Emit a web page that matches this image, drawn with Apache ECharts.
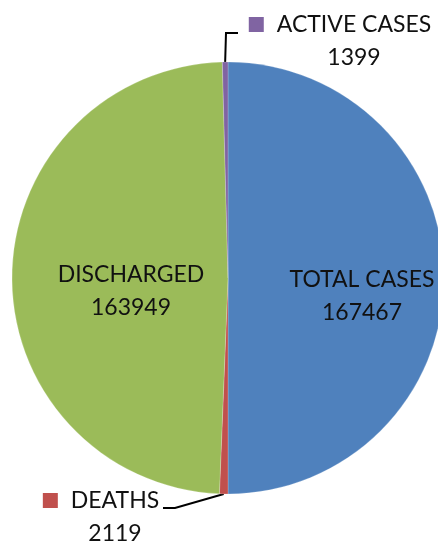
<!DOCTYPE html>
<html>
<head>
<meta charset="utf-8">
<script src="https://cdn.jsdelivr.net/npm/echarts@6/dist/echarts.min.js"></script>
<style>
html,body{margin:0;padding:0;background:#fff;}
#chart{width:438px;height:545px;}
</style>
</head>
<body>
<div id="chart"></div>
<script>
// Data
const categories = ['TOTAL CASES', 'DEATHS', 'DISCHARGED', 'ACTIVE CASES'];
const values = [167467, 2119, 163949, 1399];
const colors = ['#4F81BD', '#C0504D', '#9BBB59', '#8064A2'];

// label placement (style only)
const labelPos = [
  { x: 362, y: 296 },
  { x: 101, y: 517 },
  { x: 131, y: 291 },
  { x: 340, y: 41 }
];
const leaderTail = [
  null,
  [[175, 508], [163, 508]],
  null,
  [[226, 33], [238, 33]]
];
const small = [false, true, false, true];

const FONT = 'Lato';
const FS = 23;
const LH = 33;

const chart = echarts.init(document.getElementById('chart'), null, { renderer: 'canvas' });

const data = categories.map((name, i) => {
  const item = {
    name: name,
    value: values[i],
    itemStyle: { color: colors[i] }
  };
  if (small[i]) {
    item.label = {
      show: true,
      position: 'outside',
      formatter: '{sq|}{g|}{n|{b}}\n{p|}{n|{c}}',
      rich: {
        sq: { width: 15, height: 15, backgroundColor: colors[i] },
        g: { width: 13 },
        p: { width: 28 },
        n: { fontFamily: FONT, fontSize: FS, color: '#111', lineHeight: LH }
      }
    };
    item.labelLine = { show: true, lineStyle: { color: '#000', width: 2 } };
  } else {
    item.label = {
      show: true,
      position: 'inside',
      formatter: '{n|{b}}\n{n|{c}}',
      rich: {
        n: { fontFamily: FONT, fontSize: FS, color: '#111', lineHeight: LH }
      }
    };
    item.labelLine = { show: false };
  }
  return item;
});

chart.setOption({
  animation: false,
  backgroundColor: '#fff',
  series: [{
    type: 'pie',
    center: [228, 278],
    radius: 216,
    startAngle: 90,
    clockwise: true,
    avoidLabelOverlap: false,
    emphasis: { disabled: true },
    itemStyle: { borderColor: 'rgba(255,255,255,0.4)', borderWidth: 0.5 },
    label: { fontFamily: FONT, fontSize: FS, color: '#111' },
    data: data,
    labelLayout: function (params) {
      const i = params.dataIndex;
      const out = {
        x: labelPos[i].x,
        y: labelPos[i].y,
        align: 'center',
        verticalAlign: 'middle'
      };
      if (leaderTail[i] && params.labelLinePoints) {
        out.labelLinePoints = [params.labelLinePoints[0]].concat(leaderTail[i]);
      }
      return out;
    }
  }]
});
</script>
</body>
</html>
